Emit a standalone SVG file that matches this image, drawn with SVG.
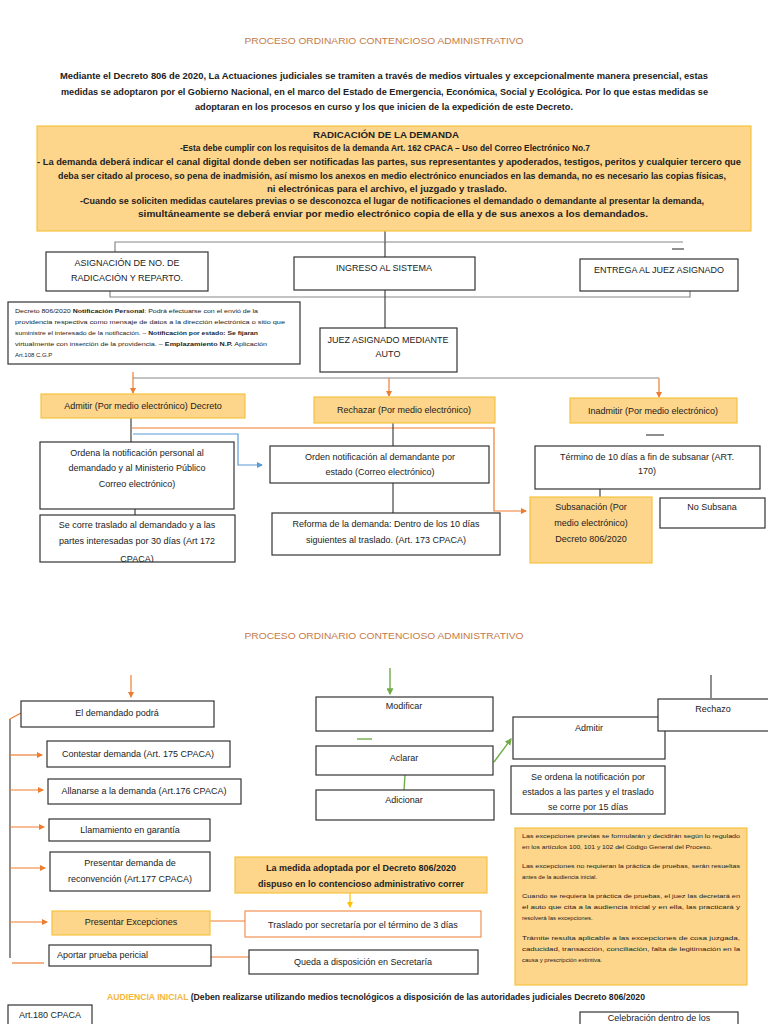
<svg xmlns="http://www.w3.org/2000/svg" width="768" height="1024" viewBox="0 0 768 1024">
<style>
.bg{fill:#fff}
.b{fill:#fff;stroke:#333;stroke-width:1.2}
.o{fill:#fdd58b;stroke:#f6c342;stroke-width:1.2}
.bo{fill:#fff;stroke:#ed7d31;stroke-width:1}
.t{font-family:"Liberation Sans",Arial,sans-serif;font-size:9px;fill:#222;text-anchor:middle}
.s{font-family:"Liberation Sans",Arial,sans-serif;font-size:6px;fill:#222}
.bd{font-weight:bold}
.ti{font-family:"Liberation Sans",Arial,sans-serif;font-size:9.5px;fill:#c57a48;text-anchor:middle}
.k{stroke:#444;stroke-width:1.2;fill:none}
.g{stroke:#888;stroke-width:1.2;fill:none}
.or{stroke:#ed7d31;stroke-width:1.2;fill:none}
.bl{stroke:#5b9bd5;stroke-width:1.2;fill:none}
.gr{stroke:#70ad47;stroke-width:1.4;fill:none}
.yl{stroke:#ffc000;stroke-width:1.2;fill:none}
</style>
<defs>
<marker id="ao" viewBox="0 0 6 6" refX="5" refY="3" markerWidth="5" markerHeight="5" orient="auto"><path d="M0,0 L6,3 L0,6 z" fill="#ed7d31"/></marker>
<marker id="ab" viewBox="0 0 6 6" refX="5" refY="3" markerWidth="5" markerHeight="5" orient="auto"><path d="M0,0 L6,3 L0,6 z" fill="#5b9bd5"/></marker>
<marker id="ag" viewBox="0 0 6 6" refX="5" refY="3" markerWidth="5" markerHeight="5" orient="auto"><path d="M0,0 L6,3 L0,6 z" fill="#70ad47"/></marker>
<marker id="ay" viewBox="0 0 6 6" refX="5" refY="3" markerWidth="5" markerHeight="5" orient="auto"><path d="M0,0 L6,3 L0,6 z" fill="#ffc000"/></marker>
<clipPath id="cse"><rect x="40" y="515" width="195" height="47"/></clipPath>
</defs>
<rect class="bg" x="0" y="0" width="768" height="1024"/>

<text class="ti" x="384" y="44" textLength="279" lengthAdjust="spacingAndGlyphs">PROCESO ORDINARIO CONTENCIOSO ADMINISTRATIVO</text>
<g id="intro">
<text class="t bd" x="384" y="79" font-size="10.5" textLength="648" lengthAdjust="spacingAndGlyphs">Mediante el  Decreto 806 de 2020, La Actuaciones judiciales se tramiten a través de medios virtuales y excepcionalmente manera presencial, estas</text>
<text class="t bd" x="384.5" y="95" font-size="10.5" textLength="647" lengthAdjust="spacingAndGlyphs">medidas se adoptaron por el Gobierno Nacional, en el marco del Estado de Emergencia, Económica, Social y Ecológica. Por lo que estas medidas se</text>
<text class="t bd" x="384" y="110" font-size="10.5" textLength="378" lengthAdjust="spacingAndGlyphs">adoptaran en los procesos en curso y los que inicien de la expedición de este Decreto.</text>
</g>

<g id="connectors">
<path class="k" d="M385,231 V242"/>
<path class="g" d="M115,252 V242 H683"/>
<path class="k" d="M385,242 V257"/>
<path class="k" d="M672,249 H684"/>
<path class="g" d="M110,291 V297 H690 V291"/>
<path class="k" d="M385,290 V328"/>
<path class="g" d="M133,378 H659"/>
<path class="or" d="M133,372 V393" marker-end="url(#ao)"/>
<path class="or" d="M389,378 V396" marker-end="url(#ao)"/>
<path class="or" d="M659,378 V397" marker-end="url(#ao)"/>
<path class="k" d="M646,435 H664"/>
<path class="k" d="M131,418 V442"/>
<path class="or" d="M131,428 H494 V511 H526" marker-end="url(#ao)"/>
<path class="bl" d="M133,434 H238 V465 H262" marker-end="url(#ab)"/>
<path class="k" d="M135,509 V515"/>
<path class="k" d="M393,423 V446"/>
<path class="k" d="M393,483 V513"/>
<path class="k" d="M600,489 V497"/>
<path class="k" d="M716,488 H733"/>

<path class="or" d="M131,675 V697" marker-end="url(#ao)"/>
<path class="k" d="M10,719 V958"/>
<path class="or" d="M10,719 L21,713"/>
<path class="or" d="M10,755 H42" marker-end="url(#ao)"/>
<path class="or" d="M10,790 H43" marker-end="url(#ao)"/>
<path class="or" d="M10,827 H44" marker-end="url(#ao)"/>
<path class="or" d="M10,868 H45" marker-end="url(#ao)"/>
<path class="or" d="M10,922 H47" marker-end="url(#ao)"/>
<path class="or" d="M12,963 H44" stroke-width="1.6"/>
<path class="or" d="M210,921 H245" stroke-width="1.8"/>
<path class="or" d="M211,957 H249" stroke-width="0.8"/>
<path class="yl" d="M350,893 V907" marker-end="url(#ay)"/>
<path class="gr" d="M390,668 V694" marker-end="url(#ag)"/>
<path class="gr" d="M357,739 H372"/>
<path class="gr" d="M405,775 L404,790"/>
<path class="gr" d="M494,762 L511,739" marker-end="url(#ag)"/>
<path class="gr" d="M584,758 H603"/>
<path class="k" d="M711,675 V698"/>
</g>

<g id="radicacion">
<rect class="o" x="37" y="126" width="714" height="105"/>
<text class="t bd" x="386" y="138" font-size="9.5" textLength="146" lengthAdjust="spacingAndGlyphs">RADICACIÓN DE LA DEMANDA</text>
<text class="t bd" x="385" y="151" font-size="9.5" textLength="410" lengthAdjust="spacingAndGlyphs">-Esta debe cumplir con los requisitos de la demanda Art. 162 CPACA – Uso del Correo Electrónico No.7</text>
<text class="t bd" x="389" y="165" font-size="9.5" textLength="704" lengthAdjust="spacingAndGlyphs">- La demanda deberá indicar el canal digital donde deben ser notificadas las partes, sus representantes y apoderados, testigos, peritos y cualquier tercero que</text>
<text class="t bd" x="392" y="179" font-size="9.5" textLength="668" lengthAdjust="spacingAndGlyphs">deba ser citado al proceso, so pena de inadmisión, así mismo los anexos en medio electrónico enunciados en las demanda, no es necesario las copias físicas,</text>
<text class="t bd" x="387" y="192" font-size="9.5" textLength="240" lengthAdjust="spacingAndGlyphs">ni electrónicas para el archivo, el juzgado y traslado.</text>
<text class="t bd" x="392" y="204" font-size="9.5" textLength="624" lengthAdjust="spacingAndGlyphs">-Cuando se soliciten medidas cautelares previas o se desconozca el lugar de notificaciones el demandado o demandante al presentar la demanda,</text>
<text class="t bd" x="393" y="217" font-size="9.5" textLength="510" lengthAdjust="spacingAndGlyphs">simultáneamente se deberá enviar por medio electrónico copia de ella y de sus anexos  a los demandados.</text>
</g>

<g id="asignacion">
<rect class="b" x="46" y="252" width="162" height="39"/>
<text class="t" x="127" y="266">ASIGNACIÓN DE NO. DE</text>
<text class="t" x="127" y="281">RADICACIÓN Y REPARTO.</text>
</g>
<g id="ingreso">
<rect class="b" x="294" y="257" width="181" height="33"/>
<text class="t" x="384" y="271">INGRESO AL SISTEMA</text>
</g>
<g id="entrega">
<rect class="b" x="580" y="259" width="158" height="32"/>
<text class="t" x="659" y="273">ENTREGA AL JUEZ ASIGNADO</text>
</g>
<g id="nota-notificacion">
<rect class="b" x="8" y="302" width="292" height="62"/>
<text class="s" x="15" y="313" textLength="243" lengthAdjust="spacingAndGlyphs">Decreto 806/2020 <tspan class="bd">Notificación Personal</tspan>: Podrá efectuarse con el envió de la</text>
<text class="s" x="15" y="324" textLength="270" lengthAdjust="spacingAndGlyphs">providencia respectiva como mensaje  de datos a la dirección electrónica o sitio que</text>
<text class="s" x="15" y="335" textLength="243" lengthAdjust="spacingAndGlyphs">suministre el interesado de la notificación. – <tspan class="bd">Notificación por estado: Se fijaran</tspan></text>
<text class="s" x="15" y="346" textLength="252" lengthAdjust="spacingAndGlyphs">virtualmente con inserción de la providencia. – <tspan class="bd">Emplazamiento N.P.</tspan> Aplicación</text>
<text class="s" x="15" y="357">Art.108 C.G.P</text>
</g>
<g id="juez">
<rect class="b" x="320" y="328" width="137" height="44"/>
<text class="t" x="388" y="343">JUEZ ASIGNADO MEDIANTE</text>
<text class="t" x="388" y="357">AUTO</text>
</g>

<g id="admitir">
<rect class="o" x="41" y="394" width="204" height="24"/>
<text class="t" x="143" y="409" font-size="8.5">Admitir (Por medio electrónico) Decreto</text>
</g>
<g id="rechazar">
<rect class="o" x="314" y="397" width="181" height="26"/>
<text class="t" x="404" y="413" font-size="8.5">Rechazar (Por medio electrónico)</text>
</g>
<g id="inadmitir">
<rect class="o" x="570" y="398" width="167" height="25"/>
<text class="t" x="653" y="414" font-size="8.5">Inadmitir (Por medio electrónico)</text>
</g>

<g id="ordena">
<rect class="b" x="40" y="442" width="194" height="67"/>
<text class="t" x="137" y="456">Ordena la notificación personal al</text>
<text class="t" x="137" y="471">demandado y al Ministerio Público</text>
<text class="t" x="137" y="487">Correo electrónico)</text>
</g>
<g id="se-corre">
<rect class="b" x="40" y="515" width="195" height="47"/>
<g clip-path="url(#cse)">
<text class="t" x="137" y="528">Se corre traslado al demandado y a las</text>
<text class="t" x="137" y="544">partes interesadas por 30 días (Art 172</text>
<text class="t" x="137" y="562">CPACA)</text>
</g>
</g>
<g id="orden">
<rect class="b" x="270" y="446" width="219" height="37"/>
<text class="t" x="380" y="460">Orden notificación al demandante por</text>
<text class="t" x="380" y="475">estado (Correo electrónico)</text>
</g>
<g id="reforma">
<rect class="b" x="272" y="513" width="228" height="42"/>
<text class="t" x="386" y="527">Reforma de la demanda: Dentro de los 10 días</text>
<text class="t" x="386" y="543">siguientes al traslado. (Art. 173 CPACA)</text>
</g>
<g id="termino">
<rect class="b" x="535" y="446" width="225" height="43"/>
<text class="t" x="647" y="460">Término de 10 días a fin de subsanar  (ART.</text>
<text class="t" x="647" y="474">170)</text>
</g>
<g id="subsanacion">
<rect class="o" x="530" y="497" width="122" height="66"/>
<text class="t" x="591" y="510">Subsanación (Por</text>
<text class="t" x="591" y="526">medio electrónico)</text>
<text class="t" x="591" y="542">Decreto 806/2020</text>
</g>
<g id="no-subsana">
<rect class="b" x="660" y="498" width="105" height="30"/>
<text class="t" x="712" y="510">No Subsana</text>
</g>

<text class="ti" x="384" y="639" textLength="279" lengthAdjust="spacingAndGlyphs">PROCESO ORDINARIO CONTENCIOSO ADMINISTRATIVO</text>

<g id="demandado">
<rect class="b" x="21" y="701" width="193" height="26"/>
<text class="t" x="117" y="716">El demandado podrá</text>
</g>
<g id="contestar">
<rect class="b" x="47" y="741" width="183" height="26"/>
<text class="t" x="138" y="757">Contestar demanda (Art. 175 CPACA)</text>
</g>
<g id="allanarse">
<rect class="b" x="48" y="779" width="193" height="25"/>
<text class="t" x="144" y="794">Allanarse a la demanda (Art.176 CPACA)</text>
</g>
<g id="llamamiento">
<rect class="b" x="49" y="819" width="161" height="22"/>
<text class="t" x="130" y="833">Llamamiento en garantía</text>
</g>
<g id="reconvencion">
<rect class="b" x="50" y="852" width="160" height="39"/>
<text class="t" x="130" y="866">Presentar demanda de</text>
<text class="t" x="130" y="882">reconvención (Art.177 CPACA)</text>
</g>
<g id="excepciones">
<rect class="o" x="52" y="911" width="158" height="24"/>
<text class="t" x="131" y="925">Presentar Excepciones</text>
</g>
<g id="pericial">
<rect class="b" x="49" y="945" width="162" height="21"/>
<text class="t" x="57" y="958" style="text-anchor:start">Aportar prueba pericial</text>
</g>
<g id="medida">
<rect class="o" x="235" y="857" width="252" height="36"/>
<text class="t bd" x="361" y="871">La medida adoptada por el Decreto 806/2020</text>
<text class="t bd" x="361" y="887">dispuso en lo contencioso administrativo correr</text>
</g>
<g id="traslado">
<rect class="bo" x="245" y="911" width="236" height="26"/>
<text class="t" x="363" y="928">Traslado por secretaría por el término de 3 días</text>
</g>
<g id="queda">
<rect class="b" x="249" y="950" width="229" height="24"/>
<text class="t" x="363" y="965">Queda a disposición en Secretaría</text>
</g>

<g id="modificar">
<rect class="b" x="316" y="697" width="177" height="34"/>
<text class="t" x="404" y="709">Modificar</text>
</g>
<g id="aclarar">
<rect class="b" x="316" y="746" width="177" height="29"/>
<text class="t" x="404" y="761">Aclarar</text>
</g>
<g id="adicionar">
<rect class="b" x="316" y="790" width="178" height="30"/>
<text class="t" x="404" y="803">Adicionar</text>
</g>
<g id="admitir2">
<rect class="b" x="513" y="717" width="152" height="42"/>
<text class="t" x="589" y="731">Admitir</text>
</g>
<g id="se-ordena">
<rect class="b" x="511" y="766" width="154" height="48"/>
<text class="t" x="588" y="780">Se ordena la notificación por</text>
<text class="t" x="588" y="795">estados a las partes y el traslado</text>
<text class="t" x="588" y="810">se corre por 15 días</text>
</g>
<g id="rechazo">
<rect class="b" x="658" y="699" width="111" height="32"/>
<text class="t" x="713" y="712">Rechazo</text>
</g>
<g id="nota-excepciones">
<rect class="o" x="515" y="828" width="232" height="157"/>
<text class="s" x="522" y="838" textLength="218" lengthAdjust="spacingAndGlyphs">Las excepciones previas se formularán y decidirán según lo regulado</text>
<text class="s" x="522" y="849" textLength="190" lengthAdjust="spacingAndGlyphs">en los artículos 100, 101 y 102 del Código General del Proceso.</text>
<text class="s" x="522" y="868" textLength="218" lengthAdjust="spacingAndGlyphs">Las excepciones no requieran la práctica de pruebas, serán resueltas</text>
<text class="s" x="522" y="879">antes de la audiencia inicial.</text>
<text class="s" x="522" y="898" textLength="218" lengthAdjust="spacingAndGlyphs">Cuando se requiera la práctica de pruebas, el juez las decretará en</text>
<text class="s" x="522" y="909" textLength="218" lengthAdjust="spacingAndGlyphs">el auto que cita a la audiencia inicial y en ella, las practicará y</text>
<text class="s" x="522" y="920">resolverá las excepciones.</text>
<text class="s" x="522" y="940" textLength="218" lengthAdjust="spacingAndGlyphs">Trámite resulta aplicable a las excepciones de cosa juzgada,</text>
<text class="s" x="522" y="951" textLength="218" lengthAdjust="spacingAndGlyphs">caducidad, transacción, conciliación, falta de legitimación en la</text>
<text class="s" x="522" y="962">causa y prescripción extintiva.</text>
</g>

<text class="t bd" x="107" y="1000" style="text-anchor:start" textLength="538" lengthAdjust="spacingAndGlyphs"><tspan fill="#f4b63f">AUDIENCIA INICIAL</tspan> (Deben realizarse utilizando medios tecnológicos a disposición de las autoridades judiciales  Decreto 806/2020</text>
<g id="art180">
<rect class="b" x="8" y="1005" width="84" height="20"/>
<text class="t" x="50" y="1018">Art.180 CPACA</text>
</g>
<g id="celebracion">
<rect class="b" x="580" y="1012" width="158" height="20"/>
<text class="t" x="659" y="1021" font-size="8.5">Celebración dentro de los</text>
</g>
</svg>
